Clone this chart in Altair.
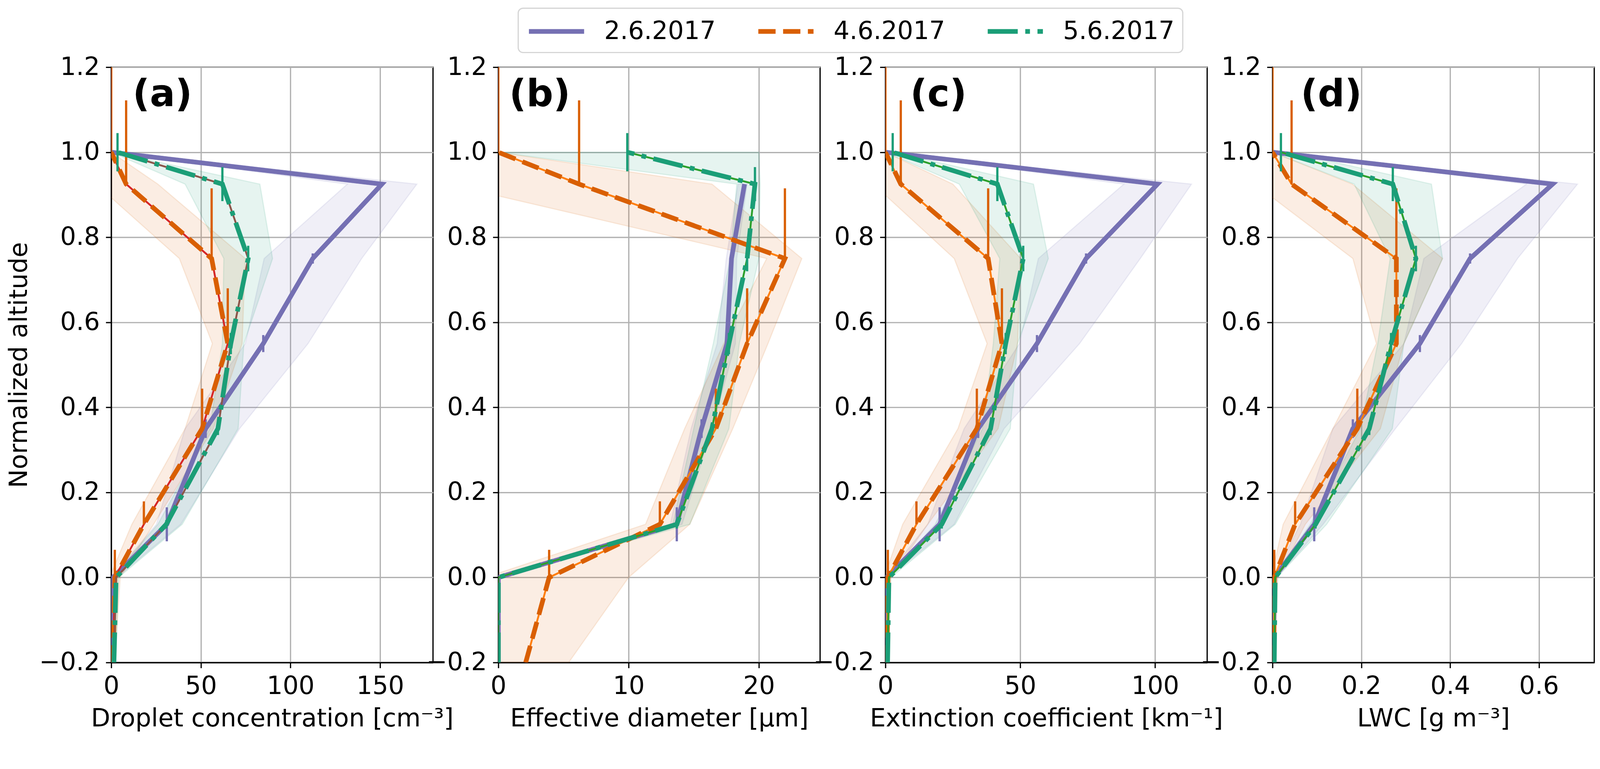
import altair as alt
import pandas as pd

# normalized altitude levels of the profiles
LEVELS = [-0.2, 0.0, 0.125, 0.35, 0.55, 0.75, 0.925, 1.0]
DATES = ["2.6.2017", "4.6.2017", "5.6.2017"]
COLORS = ["#7570b3", "#d95f02", "#1b9e77"]
DASHES = [[1, 0], [46, 20], [80, 20, 12.5, 20]]

# droplet concentration [cm-3]: mean, band low, band high
CONC = {
    "2.6.2017": [0.5, 1.0, 31.0, 52.7, 84.8, 112.4, 151.0, 0.0],
    "4.6.2017": [1.0, 2.0, 18.2, 50.7, 65.0, 56.0, 8.3, 0.0],
    "5.6.2017": [1.5, 2.7, 30.7, 59.5, 66.7, 76.4, 62.0, 3.5],
}
CONC_LO = {
    "2.6.2017": [0.2, 0.0, 25.2, 41.2, 74.8, 85.3, 131.7, 0.0],
    "4.6.2017": [0.3, -1.0, 11.5, 41.2, 56.4, 38.0, -8.5, 0.0],
    "5.6.2017": [1.0, 0.5, 26.0, 55.0, 62.0, 62.8, 41.2, 0.0],
}
CONC_HI = {
    "2.6.2017": [0.8, 3.0, 38.8, 71.6, 109.8, 139.7, 170.5, 0.0],
    "4.6.2017": [2.0, 5.0, 23.6, 57.0, 73.0, 74.8, 26.0, 0.0],
    "5.6.2017": [2.5, 4.0, 39.6, 70.8, 74.0, 90.0, 82.9, 1.0],
}

# effective diameter [um]
DIAM = {
    "2.6.2017": [0.0, 0.0, 13.7, 15.6, 17.55, 17.9, 18.9, None],
    "4.6.2017": [2.1, 3.9, 12.4, 16.7, 19.1, 22.0, 6.2, 0.0],
    "5.6.2017": [0.0, 0.0, 13.7, 16.4, 17.7, 19.1, 19.7, 9.9],
}
DIAM_LO = {
    "2.6.2017": [0.0, 0.0, 13.2, 14.8, 16.8, 17.5, 18.4, None],
    "4.6.2017": [-2.0, -1.0, 11.3, 14.3, 17.3, 20.6, -3.9, 0.0],
    "5.6.2017": [0.0, 0.0, 13.4, 15.0, 16.5, 17.8, 18.3, 0.0],
}
DIAM_HI = {
    "2.6.2017": [0.0, 0.0, 14.1, 16.4, 18.2, 18.3, 19.1, None],
    "4.6.2017": [5.4, 10.0, 14.7, 18.0, 20.7, 23.3, 16.4, 0.0],
    "5.6.2017": [0.0, 0.0, 14.7, 17.7, 18.5, 20.0, 20.1, 20.0],
}

# extinction coefficient [km-1]
EXT = {
    "2.6.2017": [0.2, 0.4, 20.1, 34.4, 56.2, 74.4, 100.9, 0.0],
    "4.6.2017": [0.6, 0.9, 11.5, 33.9, 43.2, 38.1, 5.7, 0.0],
    "5.6.2017": [0.8, 1.3, 20.9, 39.0, 44.6, 51.1, 41.5, 2.7],
}
EXT_LO = {
    "2.6.2017": [0.1, 0.0, 15.7, 29.2, 49.7, 56.7, 88.4, 0.0],
    "4.6.2017": [0.0, -0.5, 6.4, 26.9, 37.7, 25.5, -4.5, 0.0],
    "5.6.2017": [0.5, 0.5, 18.5, 36.0, 40.0, 42.4, 27.4, 0.0],
}
EXT_HI = {
    "2.6.2017": [0.4, 1.0, 25.5, 44.0, 72.0, 94.5, 113.5, 0.0],
    "4.6.2017": [1.0, 2.0, 15.7, 41.8, 49.0, 50.2, 25.0, 0.0],
    "5.6.2017": [1.2, 2.0, 25.9, 46.3, 49.0, 60.4, 54.9, 3.0],
}

# liquid water content [g m-3]
LWC = {
    "2.6.2017": [0.002, 0.004, 0.094, 0.181, 0.332, 0.445, 0.631, 0.0],
    "4.6.2017": [0.003, 0.004, 0.051, 0.191, 0.279, 0.279, 0.043, 0.0],
    "5.6.2017": [0.004, 0.006, 0.097, 0.218, 0.267, 0.323, 0.271, 0.019],
}
LWC_LO = {
    "2.6.2017": [0.001, 0.0, 0.063, 0.136, 0.296, 0.341, 0.572, 0.0],
    "4.6.2017": [0.001, -0.003, 0.024, 0.136, 0.234, 0.181, -0.04, 0.0],
    "5.6.2017": [0.002, 0.002, 0.085, 0.198, 0.237, 0.265, 0.184, 0.0],
}
LWC_HI = {
    "2.6.2017": [0.003, 0.01, 0.114, 0.277, 0.426, 0.552, 0.687, 0.0],
    "4.6.2017": [0.005, 0.012, 0.074, 0.243, 0.296, 0.383, 0.18, 0.0],
    "5.6.2017": [0.006, 0.01, 0.122, 0.27, 0.296, 0.383, 0.358, 0.04],
}

# altitude error bars (down / up from each level)
ERR_DOWN = {
    "2.6.2017": [None, None, 0.04, 0.022, 0.02, 0.012, None, None],
    "4.6.2017": [None, 0.0, 0.0, 0.0, 0.0, 0.0, 0.0, 0.0],
    "5.6.2017": [None, None, 0.01, 0.015, 0.025, 0.03, 0.04, 0.045],
}
ERR_UP = {
    "2.6.2017": [None, None, 0.04, 0.022, 0.02, 0.012, None, None],
    "4.6.2017": [None, 0.065, 0.054, 0.094, 0.13, 0.165, 0.197, 0.3],
    "5.6.2017": [None, None, 0.01, 0.015, 0.025, 0.03, 0.04, 0.045],
}

PANEL_LABELS = ["(a)", "(b)", "(c)", "(d)"]
X_TITLES = [
    "Droplet concentration [cm⁻³]",
    "Effective diameter [μm]",
    "Extinction coefficient [km⁻¹]",
    "LWC [g m⁻³]",
]
X_MAX = [179.5, 24.7, 119.3, 0.7247]
X_TICKS = [[0, 50, 100, 150], [0, 10, 20], [0, 50, 100], [0, 0.2, 0.4, 0.6]]
Y_TICKS = [-0.2, 0.0, 0.2, 0.4, 0.6, 0.8, 1.0, 1.2]

W, H = 857, 1586
LW = 12.5

color_scale = alt.Scale(domain=DATES, range=COLORS)
dash_scale = alt.Scale(domain=DATES, range=DASHES)
# legend line: slot of 66 px, path drawn 147 px long from the slot's left edge
legend = alt.Legend(
    title=None, orient="none", legendX=1084, legendY=-157, direction="horizontal",
    symbolType="M-1,0H3.4545", symbolSize=66 * 66, symbolStrokeWidth=LW,
    labelFontSize=66.7, labelFont="DejaVu Sans", labelColor="black", labelLimit=0,
    labelOffset=128, columnPadding=88, padding=22,
    strokeColor="#d6d6d6", fillColor="white", cornerRadius=13,
)


def panel(i, mean, lo, hi, fmt, label_x, under):
    rows = []
    for d, c in zip(DATES, COLORS):
        for k, y in enumerate(LEVELS):
            if mean[d][k] is None:
                continue
            dn, up = ERR_DOWN[d][k], ERR_UP[d][k]
            rows.append({
                "date": d, "alt": y,
                "v": mean[d][k], "lo": lo[d][k], "hi": hi[d][k],
                "e0": y - dn if dn is not None else None,
                "e1": y + up if up is not None else None,
            })
    df = pd.DataFrame(rows)

    xs = alt.Scale(domain=[0, X_MAX[i]], nice=False, zero=False)
    ys = alt.Scale(domain=[-0.2, 1.2], nice=False, zero=False)
    xax = alt.Axis(values=X_TICKS[i], format=fmt, title=X_TITLES[i])
    if i == 0:
        yax = alt.Axis(values=Y_TICKS, format=".1f", title="Normalized altitude")
    else:
        yax = alt.Axis(values=Y_TICKS, format=".1f", title=None)

    layers = []
    # shaded spread of each profile (no order channel: it would split the area)
    for d, c in zip(DATES, COLORS):
        sub = df[df["date"] == d]
        layers.append(
            alt.Chart(sub).mark_area(
                orient="horizontal", clip=True, fill=c, fillOpacity=0.11,
                stroke=c, strokeOpacity=0.12, strokeWidth=3,
            ).encode(
                y=alt.Y("alt:Q", scale=ys, axis=yax),
                x=alt.X("lo:Q", scale=xs, axis=xax),
                x2="hi:Q",
            )
        )

    for d, c in zip(DATES, COLORS):
        sub = df[df["date"] == d]
        if d in under:
            layers.append(
                alt.Chart(sub).mark_line(clip=True, strokeWidth=5, color=under[d]).encode(
                    x=alt.X("v:Q", scale=xs), y=alt.Y("alt:Q", scale=ys), order="alt:Q",
                )
            )
        err = sub.dropna(subset=["e0", "e1"])
        layers.append(
            alt.Chart(err).mark_rule(clip=True, strokeWidth=6, color=c).encode(
                x=alt.X("v:Q", scale=xs), y=alt.Y("e0:Q", scale=ys), y2="e1:Q",
            )
        )
        layers.append(
            alt.Chart(sub).mark_line(clip=True, strokeWidth=LW).encode(
                x=alt.X("v:Q", scale=xs), y=alt.Y("alt:Q", scale=ys),
                color=alt.Color("date:N", scale=color_scale, legend=legend),
                strokeDash=alt.StrokeDash("date:N", scale=dash_scale, legend=legend),
                order="alt:Q",
            )
        )

    lab = alt.Chart(pd.DataFrame({"t": [PANEL_LABELS[i]]})).mark_text(
        font="DejaVu Sans", fontSize=100, fontWeight="bold", align="left",
        baseline="alphabetic", color="black",
    ).encode(text="t:N", x=alt.value(label_x), y=alt.value(104))
    layers.append(lab)

    return alt.layer(*layers).properties(width=W, height=H)


under_a = {"4.6.2017": "#d62728", "5.6.2017": "#8c564b"}
under_b = {"4.6.2017": "#ff7f0e", "5.6.2017": "#2ca02c"}

p1 = panel(0, CONC, CONC_LO, CONC_HI, "d", 57, under_a)
p2 = panel(1, DIAM, DIAM_LO, DIAM_HI, "d", 29, under_b)
p3 = panel(2, EXT, EXT_LO, EXT_HI, "d", 66, under_b)
p4 = panel(3, LWC, LWC_LO, LWC_HI, ".1f", 75, under_b)

chart = alt.hconcat(p1, p2, p3, p4, spacing=174, bounds="flush").properties(
    padding={"left": 8, "top": -27, "right": 5, "bottom": 5}
).configure_axis(
    labelFont="DejaVu Sans", titleFont="DejaVu Sans",
    labelFontSize=66.7, titleFontSize=66.7, titleFontWeight="normal",
    labelColor="black", titleColor="black",
    tickColor="black", domainColor="black",
    tickSize=14.6, tickWidth=3.3, domainWidth=3.3,
    gridColor="#b0b0b0", gridWidth=3.3,
    labelPadding=16, labelFlush=False, labelOverlap=False,
).configure_axisY(
    titlePadding=18
).configure_axisX(
    titlePadding=20
).configure_view(
    stroke="black", strokeWidth=3.3
).configure_legend(
    strokeWidth=3.3
)

chart.save("out.html", embed_options={"renderer": "svg", "actions": False})
